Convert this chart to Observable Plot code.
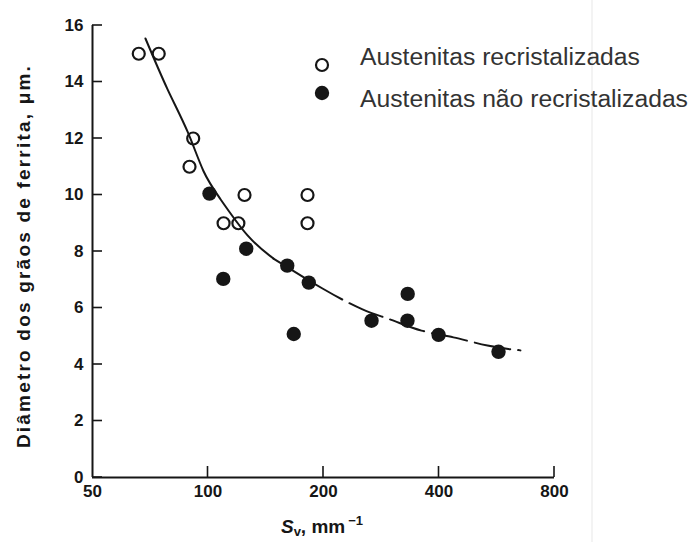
<!DOCTYPE html>
<html>
<head>
<meta charset="utf-8">
<script src="https://cdn.jsdelivr.net/npm/d3@7"></script>
<script src="https://cdn.jsdelivr.net/npm/@observablehq/plot@0.6"></script>
<style>
  body { margin: 0; background: #fff; }
  #chart { position: relative; width: 692px; height: 542px; overflow: hidden; font-family: "Liberation Sans", Arial, sans-serif; }
  #chart svg { display: block; }
  #legend { position: absolute; left: 0; top: 0; pointer-events: none; }
  #edge { position: absolute; left: 591px; top: 0; width: 2px; height: 542px; background: #f3f3f3; }
</style>
</head>
<body>
<div id="chart"><div id="edge"></div></div>
<script>
// Axis ticks
const xTicks = [50, 100, 200, 400, 800];
const yTicks = [0, 2, 4, 6, 8, 10, 12, 14, 16];

// Recrystallized austenite (open circles): Sv (mm^-1), ferrite grain diameter (µm)
const openSv = [66.0, 74.4, 91.5, 89.5, 124.5, 109.8, 120.0, 181.7, 181.7];
const openD  = [15.0, 15.0, 12.0, 11.0, 10.0, 9.0, 9.0, 10.0, 9.0];

// Non-recrystallized austenite (filled circles)
const fullSv = [100.9, 109.6, 125.8, 160.9, 183.1, 167.3, 266.8, 331.0, 331.5, 399.0, 571.7];
const fullD  = [10.05, 7.03, 8.1, 7.5, 6.9, 5.08, 5.55, 5.55, 6.5, 5.05, 4.45];

// Trend curve: solid upper branch, dashed lower branch
const solidSv = [68.7, 78.4, 88.4, 97.3, 107.8, 126.8, 148.1];
const solidD  = [15.54, 13.75, 12.25, 10.85, 9.85, 8.57, 7.75];
const dashSv  = [148.1, 198.8, 252.8, 299, 360, 436, 535, 652];
const dashD   = [7.75, 6.69, 5.95, 5.59, 5.2, 4.96, 4.67, 4.5];

const legendItems = ["Austenitas recristalizadas", "Austenitas não recristalizadas"];

const openPts  = openSv.map((s, i) => ({s, d: openD[i]}));
const fullPts  = fullSv.map((s, i) => ({s, d: fullD[i]}));
const solidPts = solidSv.map((s, i) => ({s, d: solidD[i]}));
const dashPts  = dashSv.map((s, i) => ({s, d: dashD[i]}));

const ink = "#161616";

const plot = Plot.plot({
  width: 692,
  height: 542,
  marginLeft: 92,
  marginRight: 138,
  marginTop: 25,
  marginBottom: 65,
  style: { fontFamily: "'Liberation Sans', Arial, sans-serif", background: "transparent", color: ink },
  x: { type: "log", domain: [50, 800], axis: null },
  y: { domain: [0, 16] },
  marks: [
    // axis lines
    Plot.ruleX([50], { y1: 0, y2: 16, stroke: ink, strokeWidth: 2 }),
    Plot.ruleY([0], { x1: 50, x2: 800, stroke: ink, strokeWidth: 2 }),
    // tick labels
    Plot.axisY({ ticks: yTicks, tickSize: 0, tickPadding: 9, tickFormat: d => String(d), label: null,
                 fontSize: 17, fontWeight: "bold", fill: ink }),
    Plot.text(xTicks, { x: d => d, frameAnchor: "bottom", lineAnchor: "top", dy: 7,
                        text: d => String(d), fontSize: 17, fontWeight: "bold", fill: ink }),
    // trend curve
    Plot.line(solidPts, { x: "s", y: "d", curve: "natural", stroke: ink, strokeWidth: 2 }),
    Plot.line(dashPts, { x: "s", y: "d", curve: "natural", stroke: ink, strokeWidth: 2, strokeDasharray: "36,8" }),
    // data points
    Plot.dot(openPts, { x: "s", y: "d", r: 6, stroke: ink, strokeWidth: 2.2, fill: "none" }),
    Plot.dot(fullPts, { x: "s", y: "d", r: 7.2, fill: ink, stroke: "none" })
  ]
});

const svg = d3.select(plot);
const sx = plot.scale("x"), sy = plot.scale("y");
const x0 = sx.apply(xTicks[0]), y0 = sy.apply(yTicks[0]);

// inward tick marks, placed through the plot's own scales
const tickG = svg.append("g").attr("stroke", ink).attr("stroke-width", 1.6);
yTicks.forEach(t => {
  const y = sy.apply(t);
  tickG.append("line").attr("x1", x0).attr("x2", x0 + 10).attr("y1", y).attr("y2", y);
});
xTicks.slice(1).forEach(t => {
  const x = sx.apply(t);
  tickG.append("line").attr("x1", x).attr("x2", x).attr("y1", y0).attr("y2", y0 - 11);
});

// y-axis title
svg.append("text")
  .attr("transform", "translate(30,256) rotate(-90)")
  .attr("text-anchor", "middle")
  .attr("font-size", 19)
  .attr("font-weight", "bold")
  .attr("letter-spacing", "2.2px")
  .attr("fill", ink)
  .text("Diâmetro dos grãos de ferrita, μm.");

// x-axis title: Sv, mm^-1
const xt = svg.append("text")
  .attr("x", 322).attr("y", 533)
  .attr("text-anchor", "middle")
  .attr("font-size", 19)
  .attr("font-weight", "bold")
  .attr("fill", ink);
xt.append("tspan").attr("font-style", "italic").text("S");
xt.append("tspan").attr("font-size", 13).attr("dy", 3).text("v");
xt.append("tspan").attr("dy", -3).text(", mm");
xt.append("tspan").attr("font-size", 13).attr("dy", -8).attr("dx", 3).text("−1");

document.getElementById("chart").appendChild(plot);

// legend
const lg = d3.select("#chart").append("svg")
  .attr("id", "legend").attr("width", 692).attr("height", 542);
lg.append("circle").attr("cx", 322).attr("cy", 65).attr("r", 6)
  .attr("fill", "none").attr("stroke", ink).attr("stroke-width", 2.2);
lg.append("circle").attr("cx", 322).attr("cy", 93).attr("r", 7.2).attr("fill", ink);
lg.selectAll("text.item").data(legendItems).join("text")
  .attr("class", "item")
  .attr("x", 360)
  .attr("y", (d, i) => i === 0 ? 65 : 107)
  .attr("font-family", "'Liberation Sans', Arial, sans-serif")
  .attr("font-size", 24.7)
  .attr("fill", "#333")
  .text(d => d);
</script>
</body>
</html>
